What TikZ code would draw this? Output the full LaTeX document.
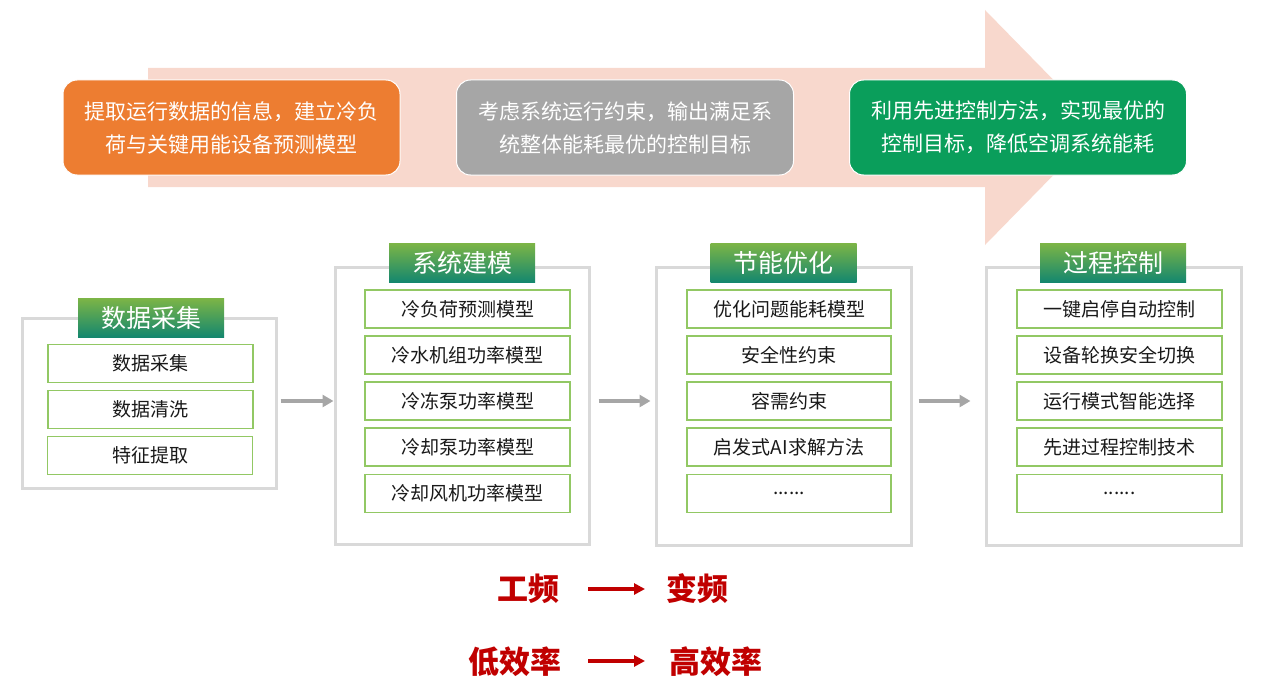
\documentclass[tikz,border=0pt]{standalone}
\usepackage{fontspec}
\setmainfont{Noto Sans CJK SC}
\usetikzlibrary{arrows.meta}
\definecolor{bigarrow}{RGB}{248,216,205}
\definecolor{orangebox}{RGB}{237,125,49}
\definecolor{graybox}{RGB}{166,166,166}
\definecolor{greenbox}{RGB}{10,158,91}
\definecolor{titletop}{RGB}{125,181,70}
\definecolor{titlebot}{RGB}{20,135,110}
\definecolor{outerline}{RGB}{217,217,217}
\definecolor{innerline}{RGB}{146,200,100}
\definecolor{flowgray}{RGB}{166,166,166}
\definecolor{darkred}{RGB}{192,0,0}
\begin{document}
\begin{tikzpicture}[x=1pt,y=-1pt,
  topbox/.style={rounded corners=14pt, draw=white, line width=1pt, text=white,
    minimum width=337pt, minimum height=95pt, align=center, inner sep=0pt,
    font=\fontsize{21}{33}\selectfont},
  groupbox/.style={draw=outerline, line width=3pt, fill=white, inner sep=0pt, minimum width=254pt},
  titlebox/.style={top color=titletop, bottom color=titlebot, text=white, inner sep=0pt,
    minimum width=146pt, minimum height=39pt, font=\fontsize{25}{25}\selectfont},
  itembox/.style={draw=innerline, line width=1.5pt, fill=white, inner sep=0pt,
    minimum width=205pt, minimum height=38pt, text=black!90, font=\fontsize{19}{19}\selectfont},
  flowarrow/.style={draw=flowgray, line width=3.5pt, -{Triangle[length=11pt,width=12pt]}},
  redtext/.style={text=darkred, font=\fontsize{31}{31}\selectfont\bfseries},
  redarrow/.style={draw=darkred, line width=3.5pt, -{Triangle[length=11pt,width=11pt]}}
]
\useasboundingbox (0,0) rectangle (1266,690);
% big background arrow
\fill[bigarrow] (148,68) -- (985,68) -- (985,10) -- (1100,127.5) -- (985,245) -- (985,187) -- (148,187) -- cycle;
% top boxes
\node[topbox, fill=orangebox] (t1) at (231.5,127.5) {提取运行数据的信息，建立冷负\\荷与关键用能设备预测模型};
\node[topbox, fill=graybox] (t2) at (625,127.5) {考虑系统运行约束，输出满足系\\统整体能耗最优的控制目标};
\node[topbox, fill=greenbox] (t3) at (1018,127.5) {利用先进控制方法，实现最优的\\控制目标，降低空调系统能耗};

% group 1
\node[groupbox, minimum height=170pt] (g1) at (149,403) {};
\node[titlebox] (h1) at (151,317.5) {数据采集};
\node[itembox] (g1a) at (150.5,363.5) {数据采集};
\node[itembox] (g1b) at (150.5,409.5) {数据清洗};
\node[itembox] (g1c) at (150,455.5) {特征提取};

% group 2
\node[groupbox, minimum height=277pt] (g2) at (462,405.5) {};
\node[titlebox] (h2) at (462,262.5) {系统建模};
\node[itembox] (g2a) at (467.5,309) {冷负荷预测模型};
\node[itembox] (g2b) at (467.5,355) {冷水机组功率模型};
\node[itembox] (g2c) at (467.5,401) {冷冻泵功率模型};
\node[itembox] (g2d) at (467.5,447) {冷却泵功率模型};
\node[itembox] (g2e) at (467.5,493.5) {冷却风机功率模型};

% group 3
\node[groupbox, minimum width=255pt, minimum height=278pt] (g3) at (783.5,406) {};
\node[titlebox] (h3) at (783.5,262.5) {节能优化};
\node[itembox, minimum width=204pt] (g3a) at (789,309) {优化问题能耗模型};
\node[itembox, minimum width=204pt] (g3b) at (789,355) {安全性约束};
\node[itembox, minimum width=204pt] (g3c) at (789,401) {容需约束};
\node[itembox, minimum width=204pt] (g3d) at (789,447) {启发式AI求解方法};
\node[itembox, minimum width=204pt] (g3e) at (789,493.5) {......};

% group 4
\node[groupbox, minimum width=255pt, minimum height=278pt] (g4) at (1113.5,406) {};
\node[titlebox] (h4) at (1113,262.5) {过程控制};
\node[itembox] (g4a) at (1119.5,309) {一键启停自动控制};
\node[itembox] (g4b) at (1119.5,355) {设备轮换安全切换};
\node[itembox] (g4c) at (1119.5,401) {运行模式智能选择};
\node[itembox] (g4d) at (1119.5,447) {先进过程控制技术};
\node[itembox] (g4e) at (1119.5,493.5) {......};

% flow arrows
\draw[flowarrow] ([xshift=3pt,yshift=2pt]g1.east) -- ([yshift=2pt]g1.east -| g2.west);
\draw[flowarrow] ([xshift=8pt,yshift=4.5pt]g2.east) -- ([xshift=-4pt,yshift=4.5pt]g2.east -| g3.west);
\draw[flowarrow] ([xshift=6pt,yshift=5pt]g3.east) -- ([xshift=-14pt,yshift=5pt]g3.east -| g4.west);

% red transitions
\node[redtext] (r1) at (528,589) {工频};
\node[redtext] (r2) at (697,589) {变频};
\node[redtext] (r3) at (515,662) {低效率};
\node[redtext] (r4) at (716,662) {高效率};
\coordinate (a1s) at (588,589);
\coordinate (a1e) at (645,589);
\coordinate (a2s) at (588,661);
\coordinate (a2e) at (645,661);
\draw[redarrow] (a1s) -- (a1e);
\draw[redarrow] (a2s) -- (a2e);
\end{tikzpicture}
\end{document}
